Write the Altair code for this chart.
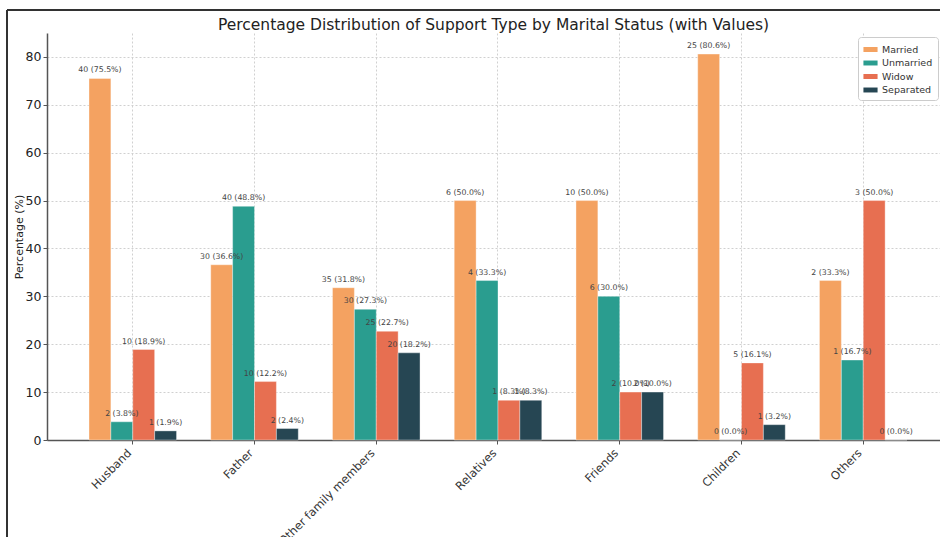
import altair as alt
import pandas as pd

categories = ["Husband", "Father", "Other family members", "Relatives", "Friends", "Children", "Others"]
statuses = ["Married", "Unmarried", "Widow", "Separated"]
colors = ["#F4A261", "#2A9D8F", "#E76F51", "#264653"]

married_n = [40, 30, 35, 6, 10, 25, 2]
unmarried_n = [2, 40, 30, 4, 6, 0, 1]
widow_n = [10, 10, 25, 1, 2, 5, 3]
separated_n = [1, 2, 20, 1, 2, 1, 0]

married_pct = [75.5, 36.6, 31.8, 50.0, 50.0, 80.6, 33.3]
unmarried_pct = [3.8, 48.8, 27.3, 33.3, 30.0, 0.0, 16.7]
widow_pct = [18.9, 12.2, 22.7, 8.3, 10.0, 16.1, 50.0]
separated_pct = [1.9, 2.4, 18.2, 8.3, 10.0, 3.2, 0.0]

counts = [married_n, unmarried_n, widow_n, separated_n]
pcts = [married_pct, unmarried_pct, widow_pct, separated_pct]

rows = []
for s, cs, ps in zip(statuses, counts, pcts):
    for c, n, p in zip(categories, cs, ps):
        rows.append({"Support": c, "Status": s, "Count": n, "Pct": p,
                     "Label": f"{n} ({p:.1f}%)"})
df = pd.DataFrame(rows)

W, H = 893, 407

x_enc = alt.X("Support:N", sort=categories,
              scale=alt.Scale(paddingInner=0.281, paddingOuter=0.308, align=0.56),
              axis=alt.Axis(title=None, labelAngle=-45, labelAlign="right", labelBaseline="top",
                            labelFontSize=11.5, labelColor="#333", labelPadding=3, labelOffset=-7,
                            grid=True, gridDash=[2, 2], gridColor="#d0d0d0",
                            tickColor="#555", tickSize=4, domainColor="#555", domainWidth=1.5))
xo_enc = alt.XOffset("Status:N", sort=statuses, scale=alt.Scale(paddingInner=0, paddingOuter=0))
y_enc = alt.Y("Pct:Q", scale=alt.Scale(domain=[0, 85], nice=False),
              axis=alt.Axis(title="Percentage (%)", values=[0, 10, 20, 30, 40, 50, 60, 70, 80],
                            titleFontSize=11, titleFontWeight="normal", titleColor="#222", titlePadding=1,
                            labelFontSize=12.5, labelColor="#222", grid=True, gridDash=[2, 2],
                            gridColor="#d0d0d0", tickColor="#555", tickSize=4,
                            domainColor="#555", domainWidth=1.5))

bars = alt.Chart(df).mark_bar(stroke="white", strokeWidth=0.6, strokeOpacity=0.6).encode(
    x=x_enc, xOffset=xo_enc, y=y_enc,
    color=alt.Color("Status:N", sort=statuses,
                    scale=alt.Scale(domain=statuses, range=colors),
                    legend=alt.Legend(title=None, orient="none", legendX=811, legendY=4,
                                      labelFontSize=9.5, labelColor="#333",
                                      symbolType="M-1,-0.35L1,-0.35L1,0.35L-1,0.35Z",
                                      symbolSize=200, symbolStrokeWidth=0,
                                      rowPadding=1.5, padding=5, fillColor="white",
                                      strokeColor="#ccc", cornerRadius=3)),
)

labels = alt.Chart(df).mark_text(fontSize=7.8, color="#444", baseline="bottom", dy=-4,
                                 font="DejaVu Sans").encode(
    x=alt.X("Support:N", sort=categories), xOffset=alt.XOffset("Status:N", sort=statuses),
    y="Pct:Q", text="Label:N")

frame_left = alt.Chart(df).mark_rule(color="#333", strokeWidth=1.5).encode(
    x=alt.value(-40), y=alt.value(-23), y2=alt.value(H + 97))
frame_top = alt.Chart(df).mark_rule(color="#333", strokeWidth=1.5).encode(
    x=alt.value(-40), x2=alt.value(W), y=alt.value(-23))

chart = alt.layer(bars, labels, frame_left, frame_top).properties(
    width=W, height=H,
    title=alt.Title("Percentage Distribution of Support Type by Marital Status (with Values)",
                    fontSize=15.5, fontWeight="normal", color="#222", font="DejaVu Sans",
                    offset=0, dy=24),
    autosize=alt.AutoSizeParams(type="none"),
    padding={"left": 47, "top": 33, "right": 0, "bottom": 97},
).configure(font="DejaVu Sans").configure_view(stroke=None)

chart.save("out.html", embed_options={"renderer": "svg", "actions": False})
